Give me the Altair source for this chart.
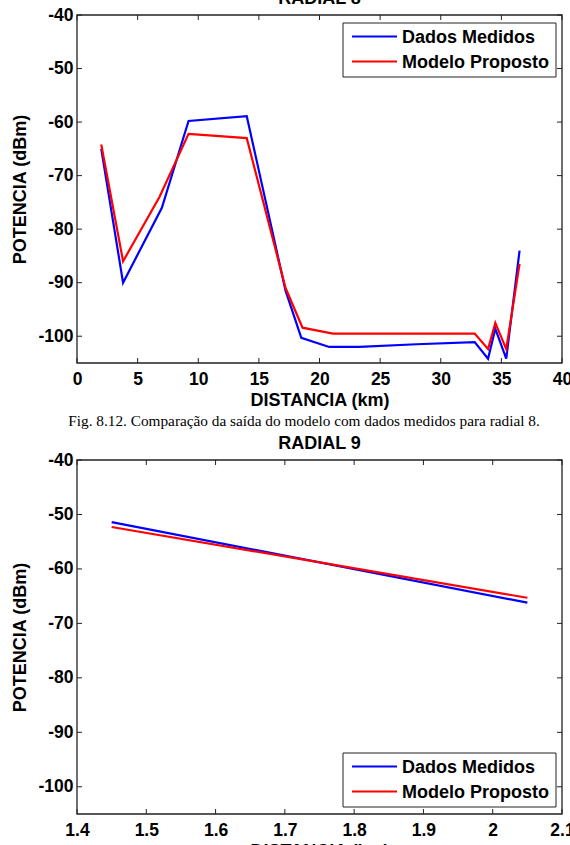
import altair as alt
import pandas as pd

# ---------------- data ----------------
series = ["Dados Medidos", "Modelo Proposto"]
series_colors = ["#0000ff", "#ff0000"]

# RADIAL 8
r8_dist_medidos = [2.0, 3.8, 7.0, 9.2, 14.0, 17.2, 18.5, 20.8, 23.3, 28.0, 32.8, 33.9, 34.5, 35.4, 36.5]
r8_pot_medidos = [-65.0, -90.0, -76.0, -59.8, -58.9, -91.5, -100.3, -102.0, -102.0, -101.5, -101.1, -104.2, -98.6, -104.2, -84.0]
r8_dist_modelo = [2.0, 3.8, 6.8, 9.2, 14.0, 17.2, 18.6, 21.1, 32.8, 33.9, 34.5, 35.4, 36.5]
r8_pot_modelo = [-64.2, -86.0, -74.0, -62.2, -63.0, -91.0, -98.4, -99.5, -99.5, -102.4, -97.5, -102.4, -86.5]

# RADIAL 9
r9_dist_medidos = [1.45, 2.05]
r9_pot_medidos = [-51.4, -66.2]
r9_dist_modelo = [1.45, 2.05]
r9_pot_modelo = [-52.3, -65.3]

r8_x_domain = [0, 40]
r8_x_ticks = [0, 5, 10, 15, 20, 25, 30, 35, 40]
r9_x_domain = [1.4, 2.1]
r9_x_ticks = [1.4, 1.5, 1.6, 1.7, 1.8, 1.9, 2.0, 2.1]
y_domain = [-105, -40]
y_ticks = [-40, -50, -60, -70, -80, -90, -100]

panel_titles = ["RADIAL 8", "RADIAL 9"]
caption = "Fig. 8.12. Comparação da saída do modelo com dados medidos para radial 8."
x_title = "DISTANCIA (km)"
y_title = "POTENCIA (dBm)"

# ---------------- layout (pixels, relative to the plotting group) ----------------
PAD = {"left": 77, "top": 15, "right": 8, "bottom": 31}
GW = 570 - PAD["left"] - PAD["right"]    # 485
GH = 845 - PAD["top"] - PAD["bottom"]    # 799
P8_TOP, P8_BOT = 0, 348
P9_TOP, P9_BOT = 445, 799
TICK = 5
SANS = "Liberation Sans"
SERIF = "Liberation Serif"
FRAME = "#222222"
HYPHEN_LABELS = "replace(datum.label, '\u2212', '-')"


def series_frame(xs_list, ys_list):
    frames = []
    for name, xs, ys in zip(series, xs_list, ys_list):
        frames.append(pd.DataFrame({"dist": xs, "pot": ys, "serie": name}))
    return pd.concat(frames, ignore_index=True)


def panel_layers(df, x_domain, x_ticks, top, bot, legend_top):
    xs = alt.Scale(domain=x_domain, range=[0, GW], nice=False, zero=False)
    ys = alt.Scale(domain=y_domain, range=[bot, top], nice=False, zero=False)
    x_axis = alt.Axis(values=x_ticks, format="~g", title=x_title, orient="bottom",
                      offset=bot - GH, labelPadding=7, titlePadding=3.5,
                      labelFlush=False, labelOverlap=False, labelBound=False)
    y_axis = alt.Axis(values=y_ticks, format="d", labelExpr=HYPHEN_LABELS, title=y_title,
                      orient="left", offset=0, labelPadding=4, titlePadding=8,
                      labelFlush=False, labelOverlap=False, labelBound=False)

    lines = alt.Chart(df).mark_line(strokeWidth=2.2).encode(
        x=alt.X("dist:Q", scale=xs, axis=x_axis),
        y=alt.Y("pot:Q", scale=ys, axis=y_axis),
        color=alt.Color("serie:N", scale=alt.Scale(domain=series, range=series_colors), legend=None),
    )

    frame_df = pd.DataFrame({"x0": [x_domain[0]], "x1": [x_domain[1]],
                             "y0": [y_domain[0]], "y1": [y_domain[1]]})
    frame = alt.Chart(frame_df).mark_rect(filled=False, stroke=FRAME, strokeWidth=1.3).encode(
        x=alt.X("x0:Q", scale=xs, axis=None), x2="x1:Q",
        y=alt.Y("y0:Q", scale=ys, axis=None), y2="y1:Q",
    )

    xt_df = pd.DataFrame({"t": x_ticks, "lo": y_domain[0], "hi": y_domain[1]})
    yt_df = pd.DataFrame({"t": y_ticks, "lo": x_domain[0], "hi": x_domain[1]})
    tick_style = dict(stroke=FRAME, strokeWidth=1)
    ticks_bottom = alt.Chart(xt_df).mark_rule(y2Offset=-TICK, **tick_style).encode(
        x=alt.X("t:Q", scale=xs, axis=None), y=alt.Y("lo:Q", scale=ys, axis=None), y2="lo:Q")
    ticks_top = alt.Chart(xt_df).mark_rule(y2Offset=TICK, **tick_style).encode(
        x=alt.X("t:Q", scale=xs, axis=None), y=alt.Y("hi:Q", scale=ys, axis=None), y2="hi:Q")
    ticks_left = alt.Chart(yt_df).mark_rule(x2Offset=TICK, **tick_style).encode(
        y=alt.Y("t:Q", scale=ys, axis=None), x=alt.X("lo:Q", scale=xs, axis=None), x2="lo:Q")
    ticks_right = alt.Chart(yt_df).mark_rule(x2Offset=-TICK, **tick_style).encode(
        y=alt.Y("t:Q", scale=ys, axis=None), x=alt.X("hi:Q", scale=xs, axis=None), x2="hi:Q")

    # legend (manual, boxed like the original)
    leg_df = pd.DataFrame({"serie": series})
    box = alt.Chart(leg_df.head(1)).mark_rect(fill="white", stroke=FRAME, strokeWidth=1).encode(
        x=alt.value(GW - 219), x2=alt.value(GW - 6),
        y=alt.value(legend_top), y2=alt.value(legend_top + 54),
    )
    leg_layers = [box]
    for i, name in enumerate(series):
        row_y = legend_top + 13.5 + 25 * i
        one = pd.DataFrame({"serie": [name]})
        leg_layers.append(
            alt.Chart(one).mark_rule(color=series_colors[i], strokeWidth=2.2).encode(
                x=alt.value(275), x2=alt.value(320), y=alt.value(row_y))
        )
        leg_layers.append(
            alt.Chart(one).mark_text(align="left", baseline="middle", font=SANS,
                                     fontWeight="bold", fontSize=18, color="black").encode(
                x=alt.value(325), y=alt.value(row_y + 1), text="serie:N")
        )

    return [lines, frame, ticks_bottom, ticks_top, ticks_left, ticks_right] + leg_layers


l8 = panel_layers(series_frame([r8_dist_medidos, r8_dist_modelo], [r8_pot_medidos, r8_pot_modelo]),
                  r8_x_domain, r8_x_ticks, P8_TOP, P8_BOT, P8_TOP + 8)
l9 = panel_layers(series_frame([r9_dist_medidos, r9_dist_modelo], [r9_pot_medidos, r9_pot_modelo]),
                  r9_x_domain, r9_x_ticks, P9_TOP, P9_BOT, P9_BOT - 61)

center = GW / 2
t8 = alt.Chart(pd.DataFrame({"label": [panel_titles[0]]})).mark_text(
    font=SANS, fontWeight="bold", fontSize=18, color="black", align="center", baseline="alphabetic"
).encode(x=alt.value(center), y=alt.value(P8_TOP - 11.5), text="label:N")
t9 = alt.Chart(pd.DataFrame({"label": [panel_titles[1]]})).mark_text(
    font=SANS, fontWeight="bold", fontSize=18, color="black", align="center", baseline="alphabetic"
).encode(x=alt.value(center), y=alt.value(P9_TOP - 11), text="label:N")
cap = alt.Chart(pd.DataFrame({"label": [caption]})).mark_text(
    font=SERIF, fontSize=15.3, color="black", align="center", baseline="alphabetic"
).encode(x=alt.value(227), y=alt.value(411), text="label:N")

chart = (
    alt.layer(*l8, *l9, t8, t9, cap)
    .resolve_scale(x="independent", y="independent", color="independent")
    .properties(width=GW, height=GH, padding=PAD, autosize=alt.AutoSizeParams(type="none"))
    .configure_view(stroke=None)
    .configure_axis(
        grid=False, domain=False, ticks=False, tickSize=0,
        labelFont=SANS, labelFontWeight="bold", labelFontSize=17.5, labelColor="black",
        titleFont=SANS, titleFontWeight="bold", titleFontSize=18, titleColor="black",
    )
)

chart.save("out.html", embed_options={"renderer": "svg", "actions": False})
